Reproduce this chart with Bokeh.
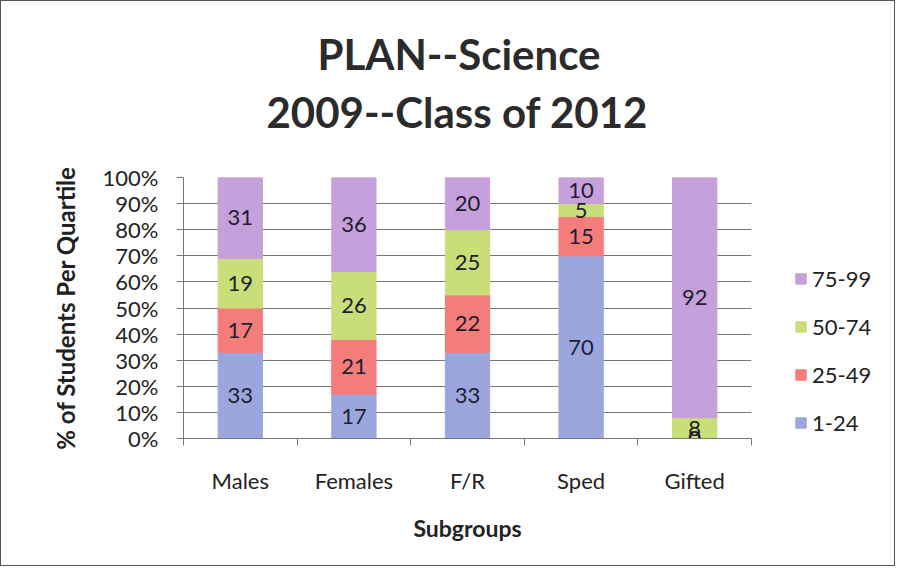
from bokeh.plotting import figure
from bokeh.layouts import row
from bokeh.models import (ColumnDataSource, Range1d, FixedTicker, PrintfTickFormatter,
                          Legend, LegendItem, Title)
from bokeh.core.properties import value
from bokeh.embed import file_html
from bokeh.resources import INLINE

# ---- data ----
categories = ["Males", "Females", "F/R", "Sped", "Gifted"]
series_names = ["1-24", "25-49", "50-74", "75-99"]
q_1_24 = [33, 17, 33, 70, 0]
q_25_49 = [17, 21, 22, 15, 0]
q_50_74 = [19, 26, 25, 5, 8]
q_75_99 = [31, 36, 20, 10, 92]
y_ticks = [0, 10, 20, 30, 40, 50, 60, 70, 80, 90, 100]
title_lines = ["PLAN--Science", "2009--Class of 2012"]

colors = ["#9ba6de", "#f47c7a", "#c9dd78", "#c6a0da"]
FONT = "Lato"

x_pos = [i + 1 for i in range(len(categories))]
series_vals = [q_1_24, q_25_49, q_50_74, q_75_99]
data = {"x": x_pos}
for name, vals in zip(series_names, series_vals):
    data[name] = vals
source = ColumnDataSource(data)

# label positions (segment middles)
lx, ly, lt = [], [], []
for i, xv in enumerate(x_pos):
    base = 0
    for vals in series_vals:
        v = vals[i]
        lx.append(xv)
        ly.append(base + v / 2)
        lt.append(str(v))
        base += v
lbl_src = ColumnDataSource(dict(x=lx, y=ly, text=lt))

p = figure(width=751, height=564, x_range=Range1d(0.5, 5.5), y_range=Range1d(0, 100),
           output_backend="svg", toolbar_location=None, title=None,
           min_border_left=182, min_border_right=1, min_border_top=176, min_border_bottom=127)
p.outline_line_color = None
p.background_fill_color = "white"
p.border_fill_color = "white"

# title (two lines; later-added is outermost)
t2 = Title(text=title_lines[1], align="left", text_font=FONT, text_font_style="bold",
           text_font_size="42px", text_color="#2b2b2b", standoff=82, offset=83)
t1 = Title(text=title_lines[0], align="left", text_font=FONT, text_font_style="bold",
           text_font_size="42px", text_color="#2b2b2b", standoff=-70, offset=134)
p.add_layout(t2, "above")
p.add_layout(t1, "above")

p.vbar_stack(series_names, x="x", width=0.39, source=source, color=colors)

p.text(x="x", y="y", text="text", source=lbl_src, text_align="center",
       text_baseline="middle", text_font=value(FONT), text_font_size="22px",
       text_color="#1e1e30")

# grid
p.xgrid.grid_line_color = None
p.ygrid.grid_line_color = "#777777"
p.ygrid.grid_line_width = 1

# x axis
xa = p.xaxis[0]
xa.ticker = FixedTicker(ticks=x_pos, minor_ticks=[0.5 + i for i in range(len(categories) + 1)])
xa.major_label_overrides = {xv: c for xv, c in zip(x_pos, categories)}
xa.major_tick_out = 0
xa.major_tick_in = 0
xa.minor_tick_out = 7
xa.minor_tick_in = 0
xa.minor_tick_line_color = "#777777"
xa.axis_line_color = "#777777"
xa.major_label_standoff = 21
xa.major_label_text_font = FONT
xa.major_label_text_font_size = "22px"
xa.major_label_text_color = "#222222"
xa.axis_label = "Subgroups"
xa.axis_label_text_font = FONT
xa.axis_label_text_font_style = "bold"
xa.axis_label_text_font_size = "23px"
xa.axis_label_text_color = "#222222"
xa.axis_label_standoff = 17

# y axis
ya = p.yaxis[0]
ya.ticker = FixedTicker(ticks=y_ticks)
ya.formatter = PrintfTickFormatter(format="%d%%")
ya.major_tick_out = 7
ya.major_tick_in = 0
ya.minor_tick_out = 0
ya.minor_tick_in = 0
ya.major_tick_line_color = "#777777"
ya.axis_line_color = "#777777"
ya.major_label_standoff = 18
ya.major_label_text_font = FONT
ya.major_label_text_font_size = "22px"
ya.major_label_text_color = "#222222"
ya.axis_label = "% of Students Per Quartile"
ya.axis_label_text_font = FONT
ya.axis_label_text_font_style = "bold"
ya.axis_label_text_font_size = "24px"
ya.axis_label_text_color = "#222222"
ya.axis_label_standoff = 20

# legend panel: a narrow companion figure (its stacked bars are hidden)
pl = figure(width=142, height=564, x_range=Range1d(100, 101), y_range=Range1d(0, 1),
            output_backend="svg", toolbar_location=None, min_border=0,
            x_axis_location=None, y_axis_location=None)
pl.grid.visible = False
pl.outline_line_color = None
pl.background_fill_color = "white"
pl.border_fill_color = "white"
leg_renderers = pl.vbar_stack(series_names, x="x", width=0.39, source=source, color=colors)
for r in leg_renderers:
    r.visible = False
items = [LegendItem(label=n, renderers=[r]) for n, r in zip(series_names, leg_renderers)][::-1]
legend = Legend(items=items, location=(42, 2), orientation="vertical",
                border_line_color=None, background_fill_alpha=0, padding=0, margin=0,
                spacing=21, glyph_width=13, glyph_height=13, label_standoff=5,
                inactive_fill_alpha=0,
                label_text_font=FONT, label_text_font_size="22px",
                label_text_color="#222222")
pl.add_layout(legend)

layout = row(p, pl)
layout.styles = {"border": "1px solid #555555"}

open("out.html", "w").write(file_html(layout, INLINE))
